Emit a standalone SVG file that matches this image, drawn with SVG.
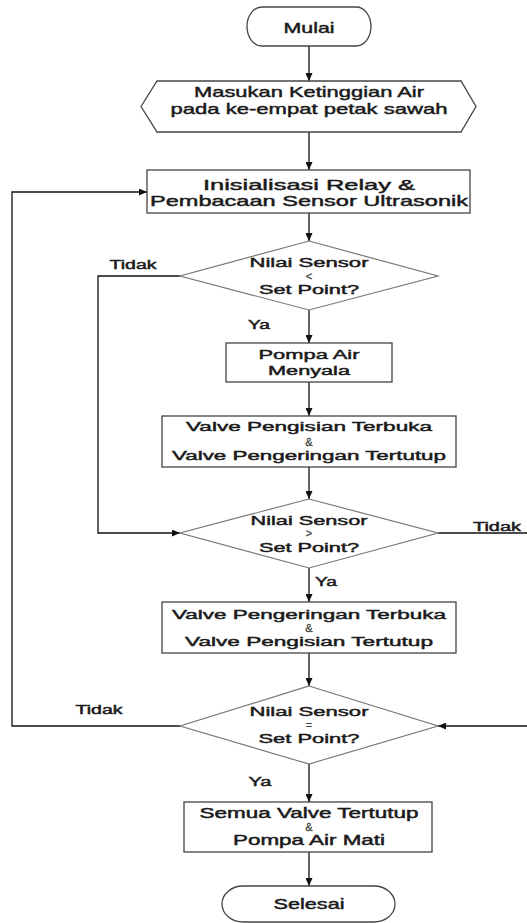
<svg xmlns="http://www.w3.org/2000/svg" width="527" height="923" viewBox="0 0 527 923">
<style>
.shape{fill:#fff;stroke:#444;stroke-width:1.3}
.dia{fill:#fff;stroke:#777;stroke-width:1.2}
.con{fill:none;stroke:#111;stroke-width:1.3}
text{font-family:"Liberation Sans",Arial,sans-serif;font-size:13px;fill:#1a1a1a;stroke:#1a1a1a;stroke-width:0.45;text-anchor:middle}
.big{font-size:15px}
.mid{font-size:14px}
.sym{font-size:11px;fill:#444;stroke:#444;stroke-width:0.3}
.lbl{font-size:12px}
</style>
<defs>
<marker id="arr" markerUnits="userSpaceOnUse" markerWidth="8" markerHeight="7" refX="8" refY="3.5" orient="auto">
<path d="M0,0 L8,3.5 L0,7 z" fill="#111"/>
</marker>
</defs>
<rect width="527" height="923" fill="#fff"/>
<g id="connectors">
<path class="con" d="M309,46 V81" marker-end="url(#arr)"/>
<path class="con" d="M309,132 V170" marker-end="url(#arr)"/>
<path class="con" d="M309,213 V241" marker-end="url(#arr)"/>
<path class="con" d="M309,310 V343" marker-end="url(#arr)"/>
<path class="con" d="M309,382 V416" marker-end="url(#arr)"/>
<path class="con" d="M309,467 V499" marker-end="url(#arr)"/>
<path class="con" d="M309,568 V602" marker-end="url(#arr)"/>
<path class="con" d="M309,653 V686" marker-end="url(#arr)"/>
<path class="con" d="M309,764 V802" marker-end="url(#arr)"/>
<path class="con" d="M309,852 V886" marker-end="url(#arr)"/>
<path class="con" d="M180,276 H98 V533 H180" marker-end="url(#arr)"/>
<path class="con" d="M438,533 H529 V726 H438" marker-end="url(#arr)"/>
<path class="con" d="M180,726 H12 V192 H147" marker-end="url(#arr)"/>
<text class="lbl" x="133" y="269" textLength="47" lengthAdjust="spacingAndGlyphs">Tidak</text>
<text class="lbl" x="259" y="329" textLength="22" lengthAdjust="spacingAndGlyphs">Ya</text>
<text class="lbl" x="497" y="531" textLength="48" lengthAdjust="spacingAndGlyphs">Tidak</text>
<text class="lbl" x="326" y="586" textLength="22" lengthAdjust="spacingAndGlyphs">Ya</text>
<text class="lbl" x="99" y="714" textLength="47" lengthAdjust="spacingAndGlyphs">Tidak</text>
<text class="lbl" x="260" y="786" textLength="23" lengthAdjust="spacingAndGlyphs">Ya</text>
</g>
<g id="mulai">
<path class="shape" d="M262,7 H356 A15 19.5 0 0 1 356,46 H262 A15 19.5 0 0 1 262,7 Z"/>
<text class="big" x="309" y="33" textLength="51" lengthAdjust="spacingAndGlyphs">Mulai</text>
</g>
<g id="masukan">
<polygon class="shape" points="141,106.5 157,81 461,81 476,106.5 461,132 157,132"/>
<text class="big" x="309" y="97" textLength="230" lengthAdjust="spacingAndGlyphs">Masukan Ketinggian Air</text>
<text class="big" x="309" y="114" textLength="277" lengthAdjust="spacingAndGlyphs">pada ke-empat petak sawah</text>
</g>
<g id="inisialisasi">
<rect class="shape" x="147" y="170" width="323" height="43"/>
<text class="big" x="309" y="190" textLength="212" lengthAdjust="spacingAndGlyphs">Inisialisasi Relay &amp;</text>
<text class="big" x="309" y="206" textLength="318" lengthAdjust="spacingAndGlyphs">Pembacaan Sensor Ultrasonik</text>
</g>
<g id="cek1">
<polygon class="dia" points="309,241 438,276 309,310 180,276"/>
<text x="309" y="267" textLength="119" lengthAdjust="spacingAndGlyphs">Nilai Sensor</text>
<text class="sym" x="309" y="280">&lt;</text>
<text x="309" y="294" textLength="100" lengthAdjust="spacingAndGlyphs">Set Point?</text>
</g>
<g id="pompa">
<rect class="shape" x="226" y="343" width="166" height="39"/>
<text x="309" y="359" textLength="101" lengthAdjust="spacingAndGlyphs">Pompa Air</text>
<text x="309" y="375" textLength="82" lengthAdjust="spacingAndGlyphs">Menyala</text>
</g>
<g id="valve1">
<rect class="shape" x="162" y="416" width="294" height="51"/>
<text x="309" y="431" textLength="246" lengthAdjust="spacingAndGlyphs">Valve Pengisian Terbuka</text>
<text class="sym" x="309" y="446">&amp;</text>
<text x="309" y="460" textLength="274" lengthAdjust="spacingAndGlyphs">Valve Pengeringan Tertutup</text>
</g>
<g id="cek2">
<polygon class="dia" points="309,499 438,533 309,568 180,533"/>
<text x="309" y="525" textLength="117" lengthAdjust="spacingAndGlyphs">Nilai Sensor</text>
<text class="sym" x="309" y="537">&gt;</text>
<text x="309" y="552" textLength="100" lengthAdjust="spacingAndGlyphs">Set Point?</text>
</g>
<g id="valve2">
<rect class="shape" x="162" y="602" width="294" height="51"/>
<text x="309" y="619" textLength="274" lengthAdjust="spacingAndGlyphs">Valve Pengeringan Terbuka</text>
<text class="sym" x="309" y="632">&amp;</text>
<text x="309" y="646" textLength="248" lengthAdjust="spacingAndGlyphs">Valve Pengisian Tertutup</text>
</g>
<g id="cek3">
<polygon class="dia" points="309,686 438,726 309,764 180,726"/>
<text x="309" y="716" textLength="119" lengthAdjust="spacingAndGlyphs">Nilai Sensor</text>
<text class="sym" x="309" y="729">=</text>
<text x="309" y="743" textLength="101" lengthAdjust="spacingAndGlyphs">Set Point?</text>
</g>
<g id="semua">
<rect class="shape" x="184" y="802" width="248" height="50"/>
<text class="mid" x="309" y="818" textLength="219" lengthAdjust="spacingAndGlyphs">Semua Valve Tertutup</text>
<text class="sym" x="309" y="831">&amp;</text>
<text class="mid" x="309" y="845" textLength="152" lengthAdjust="spacingAndGlyphs">Pompa Air Mati</text>
</g>
<g id="selesai">
<path class="shape" d="M243,886 H374 A21 18 0 0 1 374,922 H243 A21 18 0 0 1 243,886 Z"/>
<text class="big" x="309" y="909" textLength="71" lengthAdjust="spacingAndGlyphs">Selesai</text>
</g>
</svg>
